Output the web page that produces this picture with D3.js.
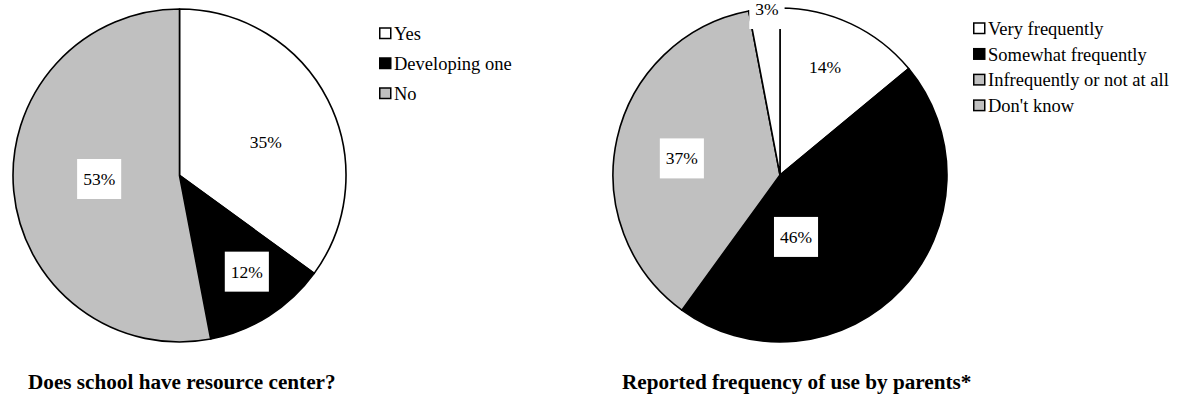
<!DOCTYPE html>
<html>
<head>
<meta charset="utf-8">
<script src="https://cdn.jsdelivr.net/npm/d3@7"></script>
<style>
html,body{margin:0;padding:0;background:#fff;}
svg{display:block;}
</style>
</head>
<body>
<svg id="chart" width="1177" height="394"></svg>
<script>
// ---- data ----
const categories1 = ["Yes", "Developing one", "No"];
const values1 = [35, 12, 53];
const title1 = "Does school have resource center?";

const categories2 = ["Very frequently", "Somewhat frequently", "Infrequently or not at all", "Don't know"];
const values2 = [14, 46, 37, 3];
const title2 = "Reported frequency of use by parents*";

// ---- styling / layout (not data) ----
const fills1 = ["#ffffff", "#000000", "#c0c0c0"];
const legendFills1 = ["#ffffff", "#000000", "#c0c0c0"];
const fills2 = ["#ffffff", "#000000", "#c0c0c0", "#ffffff"];
const legendFills2 = ["#ffffff", "#000000", "#c0c0c0", "#c0c0c0"];
// label placement: [angle in degrees clockwise from top, radius fraction]
const labelPlace1 = [[68.8, 0.556], [145, 0.705], [267.5, 0.483]];
const labelPlace2 = [[22.6, 0.70], [165.5, 0.383], [279.6, 0.596], [355.5, 0.997]];

const svg = d3.select("#chart");
const FONT = "'Liberation Serif','Times New Roman',serif";

function drawPie(cfg) {
  const g = svg.append("g").attr("transform", `translate(${cfg.cx},${cfg.cy})`);
  const pie = d3.pie().value(d => d).sort(null);
  const arcs = pie(cfg.values);
  const arc = d3.arc().innerRadius(0).outerRadius(cfg.r);
  g.selectAll("path.slice").data(arcs).enter().append("path")
    .attr("class", "slice")
    .attr("d", arc)
    .attr("fill", (d, i) => cfg.fills[i])
    .attr("stroke", "#000")
    .attr("stroke-width", 1.6)
    .attr("stroke-linejoin", "round");

  const ang = d3.scaleLinear().domain([0, 360]).range([0, 2 * Math.PI]);
  const rad = d3.scaleLinear().domain([0, 1]).range([0, cfg.r]);
  arcs.forEach((d, i) => {
    const [deg, f] = cfg.labelPlace[i];
    const a = ang(deg), rr = rad(f);
    const x = rr * Math.sin(a), y = -rr * Math.cos(a);
    const txt = g.append("text")
      .attr("x", x).attr("y", y)
      .attr("text-anchor", "middle")
      .attr("dominant-baseline", "central")
      .attr("font-family", FONT)
      .attr("font-size", 17.5)
      .attr("fill", "#000")
      .text(cfg.values[i] + "%");
    const bb = txt.node().getBBox();
    g.insert("rect", function(){ return txt.node(); })
      .attr("x", x - bb.width / 2 - 6)
      .attr("y", y - 20)
      .attr("width", bb.width + 12)
      .attr("height", 40)
      .attr("fill", "#fff");
  });

  // legend
  const lg = svg.append("g").attr("transform", `translate(${cfg.lx},${cfg.ly})`);
  cfg.categories.forEach((c, i) => {
    const row = lg.append("g").attr("transform", `translate(0,${i * cfg.lstep})`);
    row.append("rect")
      .attr("x", 0.75).attr("y", -12)
      .attr("width", 11).attr("height", 10.5)
      .attr("fill", cfg.legendFills[i])
      .attr("stroke", "#000").attr("stroke-width", 1.5);
    row.append("text")
      .attr("x", 15).attr("y", 0)
      .attr("font-family", FONT)
      .attr("font-size", 18.5)
      .attr("fill", "#000")
      .text(c);
  });

  svg.append("text")
    .attr("x", cfg.tx).attr("y", cfg.ty)
    .attr("font-family", FONT)
    .attr("font-weight", "bold")
    .attr("font-size", 21.2)
    .attr("fill", "#000")
    .text(cfg.title);
}

drawPie({
  cx: 179.5, cy: 175.5, r: 166.5,
  values: values1, categories: categories1, fills: fills1, legendFills: legendFills1,
  labelPlace: labelPlace1,
  lx: 379, ly: 40, lstep: 30,
  tx: 28, ty: 389, title: title1
});

drawPie({
  cx: 780, cy: 175, r: 167,
  values: values2, categories: categories2, fills: fills2, legendFills: legendFills2,
  labelPlace: labelPlace2,
  lx: 973, ly: 35, lstep: 25.7,
  tx: 622, ty: 389, title: title2
});
</script>
</body>
</html>
